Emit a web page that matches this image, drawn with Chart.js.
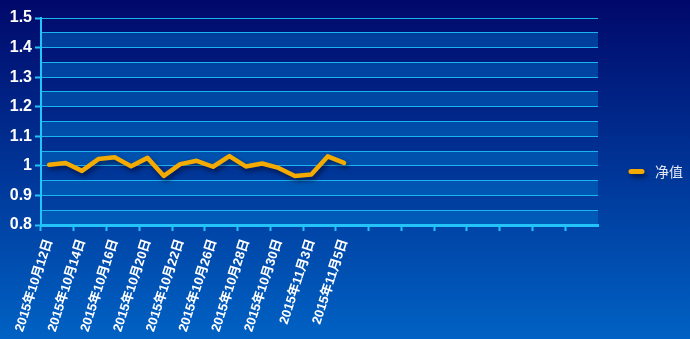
<!DOCTYPE html>
<html>
<head>
<meta charset="utf-8">
<script src="https://cdn.jsdelivr.net/npm/chart.js@4/dist/chart.umd.min.js"></script>
<style>
  html, body { margin: 0; padding: 0; }
  #wrap { width: 690px; height: 339px; }
</style>
</head>
<body>
<div id="wrap"><canvas id="nav-chart"></canvas></div>
<script>
// categories: 19 trading days, then empty slots for the rest of the period
const categories = [
    '2015年10月12日', '2015年10月13日', '2015年10月14日', '2015年10月15日', '2015年10月16日',
    '2015年10月19日', '2015年10月20日', '2015年10月21日', '2015年10月22日', '2015年10月23日',
    '2015年10月26日', '2015年10月27日', '2015年10月28日', '2015年10月29日', '2015年10月30日',
    '2015年11月2日', '2015年11月3日', '2015年11月4日', '2015年11月5日',
    '', '', '', '', '', '', '', '', '', '', '', '', '', '', ''
];

// 净值 series
const netValues = [
    1.004, 1.010, 0.983, 1.023, 1.029, 0.999, 1.027, 0.966, 1.006, 1.017,
    0.997, 1.033, 0.998, 1.008, 0.993, 0.966, 0.971, 1.032, 1.010
];

// value axis
const yMin = 0.8;
const yMax = 1.5;
const yStep = 0.05;

const CYAN = '#22c4fa';
const GRID = '#1ab4f0';
const LINE = '#f5aa00';

// background gradient + alternating bands
const backdrop = {
    id: 'backdrop',
    beforeDraw(chart) {
        const ctx = chart.ctx;
        const area = chart.chartArea;
        const g = ctx.createLinearGradient(0, 0, 0, chart.height);
        g.addColorStop(0, '#00086a');
        g.addColorStop(1, '#0062c4');
        ctx.save();
        ctx.fillStyle = g;
        ctx.fillRect(0, 0, chart.width, chart.height);

        const y = chart.scales.y;
        ctx.fillStyle = 'rgba(0,125,210,0.42)';
        for (let i = 0; i < y.ticks.length - 1; i += 2) {
            const a = y.getPixelForValue(y.ticks[i].value);
            const b = y.getPixelForValue(y.ticks[i + 1].value);
            ctx.fillRect(area.left, b, area.right - area.left, a - b);
        }
        ctx.restore();
    }
};

// drop shadow under the line
const lineShadow = {
    id: 'lineShadow',
    beforeDatasetsDraw(chart) {
        const ctx = chart.ctx;
        ctx.save();
        ctx.shadowColor = 'rgba(0,0,30,0.6)';
        ctx.shadowBlur = 5;
        ctx.shadowOffsetX = 2;
        ctx.shadowOffsetY = 3;
    },
    afterDatasetsDraw(chart) {
        chart.ctx.restore();
    }
};

// legend on the right
const sideLegend = {
    id: 'sideLegend',
    afterDraw(chart) {
        const ctx = chart.ctx;
        const ds = chart.data.datasets[0];
        const cy = 171.5;
        ctx.save();
        ctx.shadowColor = 'rgba(0,0,30,0.6)';
        ctx.shadowBlur = 5;
        ctx.shadowOffsetX = 2;
        ctx.shadowOffsetY = 3;
        ctx.strokeStyle = ds.borderColor;
        ctx.lineWidth = 5;
        ctx.lineCap = 'round';
        ctx.beginPath();
        ctx.moveTo(631, cy);
        ctx.lineTo(642, cy);
        ctx.stroke();
        ctx.restore();

        ctx.save();
        ctx.fillStyle = '#e4e8f4';
        ctx.font = '14px "Noto Sans CJK SC", sans-serif';
        ctx.textBaseline = 'middle';
        ctx.fillText(ds.label, 655, cy);
        ctx.restore();
    }
};

const navChart = new Chart(document.getElementById('nav-chart'), {
    type: 'line',
    data: {
        labels: categories,
        datasets: [{
            label: '净值',
            data: netValues,
            borderColor: LINE,
            borderWidth: 4.5,
            borderJoinStyle: 'round',
            borderCapStyle: 'round',
            pointRadius: 0,
            tension: 0,
            fill: false
        }]
    },
    options: {
        responsive: true,
        maintainAspectRatio: false,
        animation: false,
        devicePixelRatio: 1,
        layout: {
            padding: { top: 18, right: 92, bottom: 0, left: 0 }
        },
        plugins: {
            legend: { display: false },
            tooltip: { enabled: false }
        },
        scales: {
            x: {
                type: 'category',
                offset: true,
                afterFit(scale) { scale.height = 114; },
                grid: {
                    offset: true,
                    drawOnChartArea: false,
                    drawTicks: true,
                    tickLength: 6,
                    tickWidth: 2,
                    tickColor: (c) => c.index % 2 === 0 ? CYAN : 'rgba(0,0,0,0)'
                },
                border: { color: CYAN, width: 3 },
                ticks: {
                    autoSkip: false,
                    minRotation: 72,
                    maxRotation: 72,
                    padding: 6,
                    color: '#ffffff',
                    font: { family: '"Liberation Sans", "Noto Sans CJK SC", sans-serif', size: 13, weight: 'bold' },
                    callback: function (v, i) {
                        return i % 2 === 0 ? this.getLabelForValue(v) : '';
                    }
                }
            },
            y: {
                min: yMin,
                max: yMax,
                afterFit(scale) { scale.width = 41; },
                grid: {
                    color: GRID,
                    lineWidth: 1,
                    drawTicks: true,
                    tickLength: 6,
                    tickWidth: 2,
                    tickColor: (c) => c.index % 2 === 0 ? CYAN : 'rgba(0,0,0,0)'
                },
                border: { color: CYAN, width: 2 },
                ticks: {
                    autoSkip: false,
                    stepSize: yStep,
                    padding: 3,
                    color: '#ffffff',
                    font: { family: '"Liberation Sans", sans-serif', size: 16, weight: 'bold' },
                    callback: (v, i) => i % 2 === 0 ? String(+v.toFixed(1)) : ''
                }
            }
        }
    },
    plugins: [backdrop, lineShadow, sideLegend]
});
</script>
</body>
</html>
